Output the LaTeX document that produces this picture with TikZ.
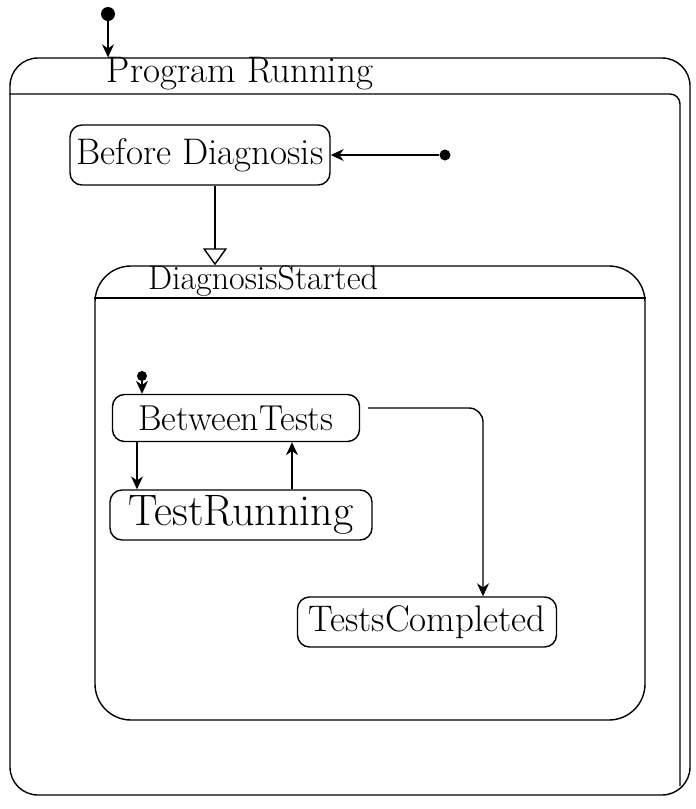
\documentclass[tikz,border=0pt]{standalone}
\usepackage{fontspec}
\setmainfont{Latin Modern Roman}
\usetikzlibrary{arrows.meta,calc}
\begin{document}
\begin{tikzpicture}[x=1pt,y=-1pt]
\tikzset{
  stroke/.style={line width=1.4pt, draw=black},
  state/.style={stroke, rounded corners=12pt, inner sep=0pt},
  frame/.style={stroke, rounded corners=28pt, inner sep=0pt},
  initdot/.style={circle, fill=black, inner sep=0pt, minimum size=11pt},
  flow/.style={stroke, -{Stealth[length=13pt,width=12pt]}},
  opentri/.style={stroke, -{Triangle[open,length=17pt,width=24pt]}},
  title/.style={inner sep=0pt},
}
\useasboundingbox (0,0) rectangle (696,809);

% outer composite state
\node[frame, minimum width=680pt, minimum height=737pt] (prog) at (350,426.5) {};
\node[title, font=\fontsize{37}{40}\selectfont] (progtitle) at (240,74) {Program Running};
\coordinate (ph) at (0,94);
\coordinate (pr) at (680,0);
\coordinate (pb) at (0,786);
% header divider, running into a second stroke down the right side
\draw[stroke, rounded corners=10pt] (prog.west |- ph) -- (pr |- ph) -- (pr |- pb);

% initial pseudo-state of the whole program
\node[initdot, minimum width=10pt, minimum height=14pt] (topinit) at (108,14) {};
\draw[flow] (topinit) -- (topinit |- prog.north);

% before diagnosis
\node[state, minimum width=260pt, minimum height=60pt, font=\fontsize{37}{40}\selectfont] (before) at (200,155) {Before Diagnosis};
\node[initdot] (bdinit) at (445,155) {};
\draw[flow] (bdinit) -- (before.east);

% nested composite state
\node[frame, rounded corners=36pt, minimum width=550pt, minimum height=454pt] (diag) at (370,493) {};
\node[title, font=\fontsize{34}{37}\selectfont] (diagtitle) at (263,281) {DiagnosisStarted};
\coordinate (dh) at (0,298);
\draw[stroke] (diag.west |- dh) -- (diag.east |- dh);

\coordinate (xd) at (215,0);
\draw[opentri] (before.south -| xd) -- (diag.north -| xd);

% inner states
\node[state, minimum width=247pt, minimum height=47pt, font=\fontsize{36}{39}\selectfont] (between) at (236,418) {BetweenTests};
\node[initdot, minimum size=10pt] (btinit) at (142,376) {};
\draw[flow] (btinit) -- (btinit |- between.north);

\node[state, minimum width=262pt, minimum height=50pt, font=\fontsize{44}{46}\selectfont] (running) at (241,515) {TestRunning};
\node[state, minimum width=259pt, minimum height=50pt, font=\fontsize{37}{40}\selectfont] (done) at (427,622) {TestsCompleted};

\coordinate (xa) at (137,0);
\coordinate (xb) at (292,0);
\coordinate (xc) at (483,0);
\draw[flow] (between.south -| xa) -- (running.north -| xa);
\draw[flow] (running.north -| xb) -- (between.south -| xb);
\draw[flow, rounded corners=14pt] ([xshift=8pt,yshift=10pt]between.east) -| (done.north -| xc);
\end{tikzpicture}
\end{document}
